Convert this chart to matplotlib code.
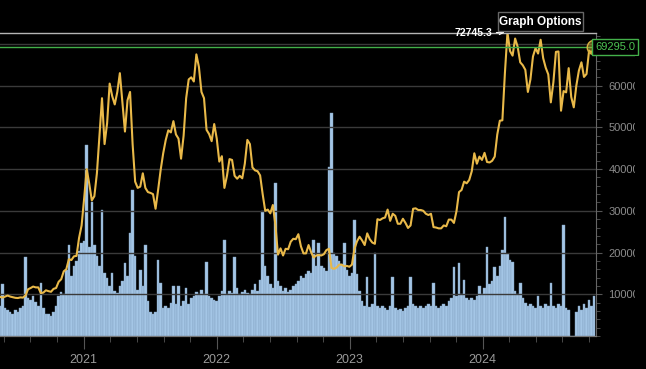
import numpy as np
import pandas as pd
import matplotlib
matplotlib.use("Agg")
import matplotlib.pyplot as plt
import matplotlib.dates as mdates
from matplotlib.patches import Rectangle
from matplotlib.transforms import blended_transform_factory
from matplotlib.ticker import FixedLocator, MultipleLocator, NullFormatter

plt.rcParams["font.family"] = ["Liberation Sans", "DejaVu Sans"]

# weekly samples, last one is 2024-11-02
dates = pd.date_range(end="2024-11-02", periods=234, freq="7D")

price = [
    # 2020
    9400, 9200, 9450, 9700, 9450, 9300, 9150, 9100, 9250, 9200, 9700, 11200, 11500,
    11850, 11650, 11650, 10300, 10400, 10950, 10750, 10600, 11300, 11500, 13000,
    13600, 15500, 16000, 18400, 18200, 19100, 19200, 23500, 26500,
    # 2021
    33000, 40000, 36500, 32500, 33500, 39000, 48000, 57000, 46000, 51000, 60500,
    57500, 55500, 58500, 63000, 56000, 49000, 56500, 58500, 46000, 37000, 35500,
    35800, 39000, 35500, 34500, 34300, 34000, 30500, 35000, 39800, 43800, 47000,
    49300, 48800, 51500, 48300, 47300, 42500, 48000, 57000, 61500, 62000, 61000,
    67500, 64500, 58500, 57000, 49400, 48400, 46700, 50800,
    # 2022
    47300, 41800, 43100, 35500, 38400, 42400, 42200, 38400, 37700, 38400, 37800,
    41300, 47000, 46000, 40400, 39700, 39500, 38500, 34000, 30000, 30300, 29400,
    31400, 26600, 19500, 21000, 19300, 20900, 20800, 22600, 23300, 23200, 24400,
    21500, 19800, 19800, 21800, 20100, 18800, 19300, 19400, 19300, 19600, 20600,
    20900, 16300, 16100, 16400, 17100, 17100, 16700, 16800,
    # 2023
    16600, 17100, 20900, 22700, 23800, 22900, 21800, 24600, 23200, 22400, 22100,
    28000, 27800, 28200, 28400, 30300, 27600, 29300, 28800, 26900, 26900, 28100,
    27100, 25900, 26500, 30500, 30600, 30200, 30200, 30000, 29300, 29000, 29300,
    26100, 26000, 25800, 25800, 26500, 26300, 27900, 27900, 27100, 29900, 34500,
    35000, 37000, 36600, 37400, 39500, 43800, 41300, 43000, 42200,
    # 2024
    43900, 41700, 41600, 42000, 43000, 48300, 51600, 51700, 63100, 72745.3, 68300,
    67200, 71300, 69300, 65600, 64900, 63800, 58500, 61500, 67000, 69000, 67700,
    71000, 66600, 64300, 62700, 56000, 60800, 68100, 68200, 54000, 58700, 58400,
    64200, 57300, 54800, 60000, 63600, 65600, 62100, 62800, 68400, 67900, 69295.0,
]

volume = [
    30, 52, 28, 26, 24, 22, 26, 24, 28, 30,
    79, 38, 36, 40, 34, 30, 53, 28, 22, 22,
    20, 24, 30, 40, 44, 42, 66, 91, 60, 70,
    75, 85, 93, 95, 191, 89, 134, 91, 80, 70,
    126, 63, 58, 50, 63, 45, 43, 50, 55, 73,
    60, 103, 146, 80, 46, 66, 50, 91, 35, 24,
    22, 24, 76, 53, 28, 30, 28, 33, 50, 32,
    50, 30, 35, 48, 32, 38, 40, 44, 42, 46,
    42, 74, 40, 38, 36, 35, 40, 45, 96, 42,
    45, 43, 79, 48, 42, 44, 46, 43, 42, 46,
    52, 45, 56, 125, 70, 60, 52, 48, 153, 55,
    50, 45, 48, 44, 46, 50, 52, 55, 60, 58,
    62, 65, 63, 96, 70, 93, 70, 68, 65, 169,
    223, 83, 80, 75, 72, 93, 66, 60, 63, 116,
    62, 45, 35, 30, 59, 29, 32, 83, 30, 28,
    30, 28, 26, 30, 59, 28, 26, 27, 25, 28,
    30, 59, 32, 30, 28, 30, 28, 30, 32, 30,
    53, 30, 28, 30, 32, 30, 35, 38, 69, 40,
    73, 42, 56, 38, 36, 38, 36, 40, 50, 42,
    48, 89, 52, 55, 69, 60, 70, 86, 119, 82,
    76, 74, 45, 42, 53, 38, 33, 30, 32, 30,
    28, 40, 30, 28, 32, 30, 53, 30, 28, 32,
    30, 111, 28, 26, 0, 0, 24, 30, 26, 32,
    28, 36, 30, 40,
]

year_labels = ["2021", "2022", "2023", "2024"]
max_price = 72745.3
last_price = 69295.0

fig = plt.figure(figsize=(6.46, 3.69), dpi=100, facecolor="black")
W, H = 646, 369
ax_vol = fig.add_axes([0, (H - 336) / H, 596 / W, 303.5 / H])
ax_vol.set_facecolor("black")
ax = ax_vol.twinx()
ax.patch.set_visible(False)

# volume bars underneath
ax_vol.bar(dates, volume, width=7, color="#a4c6e6", edgecolor="#7f9fbf", linewidth=0.3)
ax_vol.set_ylim(0, 303.5)
ax_vol.set_yticks([])

# price
ax.plot(dates, price, color="#e9b949", linewidth=1.5, zorder=4)
ax.set_ylim(0, max_price)
ax.set_xlim(pd.Timestamp("2020-05-16"), pd.Timestamp("2024-11-07"))

# max line + label
ax.axhline(max_price, color="#b5b5b5", linewidth=1, clip_on=False, zorder=5)
i_max = int(np.argmax(price))
ax.annotate("72745.3", xy=(dates[i_max], max_price), xytext=(-11, 0),
            textcoords="offset points", ha="right", va="center",
            color="white", fontsize=7.5, fontweight="bold", zorder=6,
            arrowprops=dict(arrowstyle="->", color="white", lw=0.8, shrinkA=1, shrinkB=2))

# axes styling
for a in (ax, ax_vol):
    for s in ("top", "left"):
        a.spines[s].set_visible(False)
    a.spines["right"].set_color("#666666")
    a.spines["bottom"].set_color("#777777")
ax_vol.spines["right"].set_visible(False)

ax.yaxis.set_minor_locator(MultipleLocator(2000))
ax.set_yticks([10000, 20000, 30000, 40000, 50000, 60000, 70000])
ax.tick_params(axis="y", which="major", colors="#555555", labelcolor="#8c8c8c",
               labelsize=8, length=4, pad=5)
ax.tick_params(axis="y", which="minor", colors="#555555", length=3)
ax.grid(axis="y", color="#3a3a3a", linewidth=1)

# the price labels are cut off by the panel edge: mask the last few pixels
fig.patches.append(Rectangle((635 / W, 0), 11 / W, (H - 56) / H, transform=fig.transFigure,
                             facecolor="black", edgecolor="none", zorder=9))

year_ticks = [pd.Timestamp(f"{y}-01-01") for y in year_labels]
minor = []
for y in range(2020, 2025):
    start = pd.Timestamp(f"{y}-01-01")
    for k in range(1, 5):
        minor.append(start + pd.Timedelta(days=73 * k))
ax_vol.xaxis.set_major_locator(FixedLocator(mdates.date2num(year_ticks)))
ax_vol.set_xticklabels(year_labels)
ax_vol.xaxis.set_minor_locator(FixedLocator(mdates.date2num(minor)))
ax_vol.xaxis.set_minor_formatter(NullFormatter())
ax_vol.tick_params(axis="x", which="major", colors="#555555", labelcolor="#9a9a9a",
                   labelsize=9, length=9, pad=4)
ax_vol.tick_params(axis="x", which="minor", colors="#555555", length=4)
ax.grid(axis="x", color="#262626", linewidth=1)
ax.tick_params(axis="x", which="both", bottom=False, labelbottom=False)

# last price line, marker and label
ax.axhline(last_price, color="#43b04a", linewidth=1, zorder=5)
ax.scatter([dates[-1]], [last_price], s=110, facecolor=(0.85, 0.7, 0.2, 0.45),
           edgecolor="#d8b040", linewidth=1, zorder=7, clip_on=False)
tr = blended_transform_factory(ax.transAxes, ax.transData)
ax.text(595 / 596, last_price, "69295.0", transform=tr, ha="left", va="center",
        color="#4cc552", fontsize=8, zorder=8,
        bbox=dict(boxstyle="square,pad=0.25", facecolor="black", edgecolor="#43b04a", linewidth=1))

# "Graph Options" button
fig.patches.append(Rectangle((498 / W, (H - 31) / H), 85 / W, 19 / H, transform=fig.transFigure,
                             facecolor="black", edgecolor="#666666", linewidth=1, zorder=10))
fig.text(540.5 / W, (H - 21.5) / H, "Graph Options", ha="center", va="center",
         color="white", fontsize=8.5, fontweight="bold", zorder=11)

fig.savefig("out.png", dpi=100, facecolor="black")
